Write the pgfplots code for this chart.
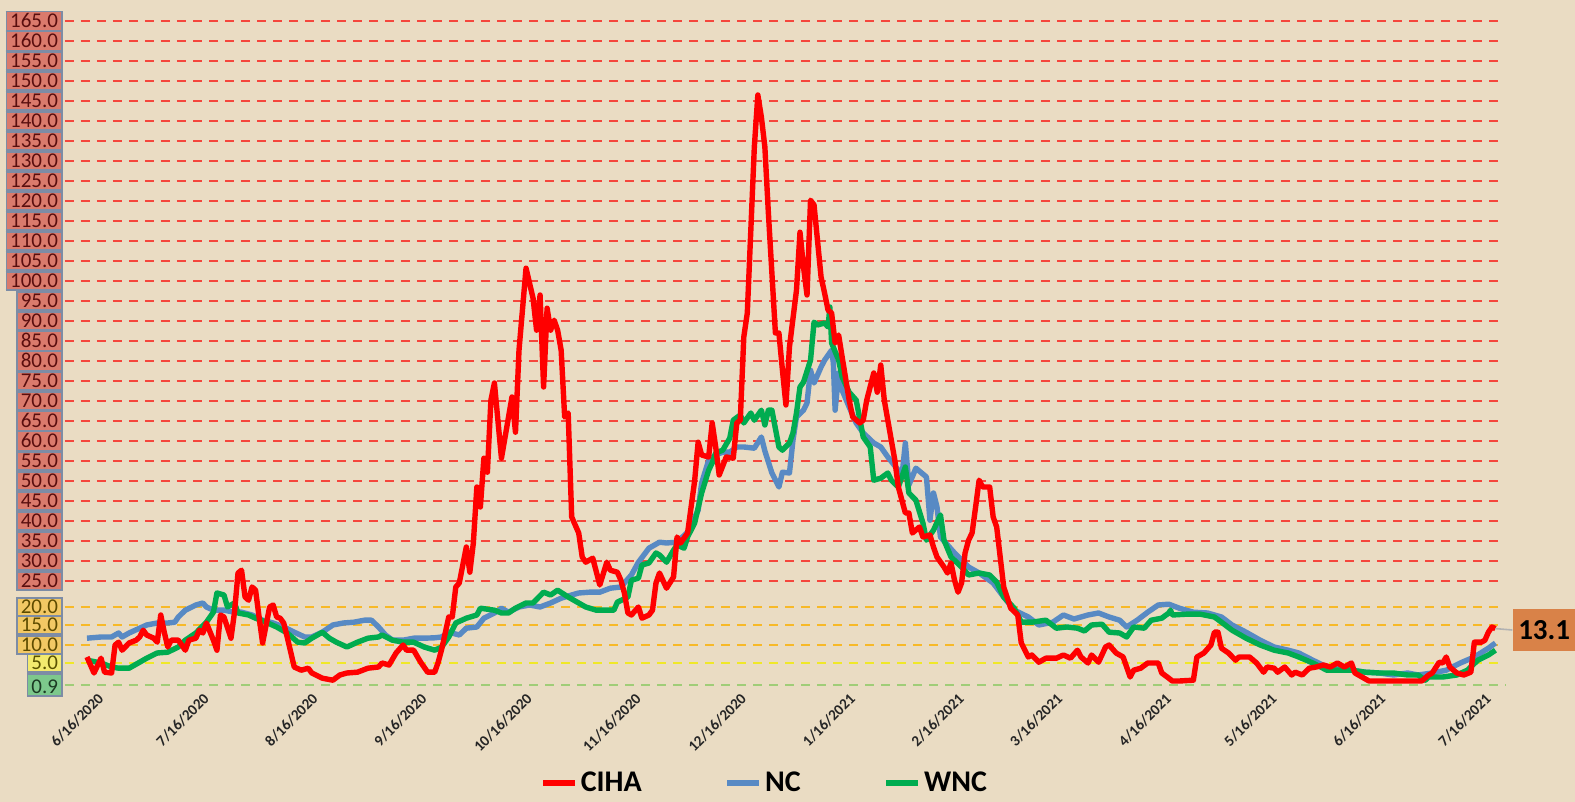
\documentclass[border=0pt]{standalone}
\usepackage{fontspec}
\setmainfont{Carlito}
\usepackage{pgfplots}
\pgfplotsset{compat=1.18}
\definecolor{bg}{RGB}{234,220,195}
\definecolor{cihared}{RGB}{255,0,0}
\definecolor{ncblue}{RGB}{88,138,196}
\definecolor{wncgreen}{RGB}{0,172,80}
\definecolor{gridred}{RGB}{245,70,60}
\definecolor{gridgold}{RGB}{247,185,40}
\definecolor{gridyellow}{RGB}{240,232,40}
\definecolor{gridgreen}{RGB}{160,205,120}
\definecolor{boxframe}{RGB}{125,140,165}
\definecolor{labred}{RGB}{218,122,108}
\definecolor{labredtext}{RGB}{90,14,14}
\definecolor{labgold}{RGB}{242,200,100}
\definecolor{labgoldtext}{RGB}{94,75,0}
\definecolor{labyellow}{RGB}{243,234,110}
\definecolor{labyellowtext}{RGB}{90,82,0}
\definecolor{labgreen}{RGB}{125,200,140}
\definecolor{labgreentext}{RGB}{28,58,36}
\definecolor{boxorange}{RGB}{217,130,72}
\newcommand\lab[5]{{\setlength\fboxsep{0.5pt}\setlength\fboxrule{0.8pt}\fcolorbox{#1}{#2}{\hspace{1pt}\textcolor{#3}{\rule[-0.6pt]{0pt}{#5}#4}\hspace{1pt}}}}
\newcommand\rl[1]{\lab{boxframe}{labred}{labredtext}{#1}{7.4pt}}
\newcommand\ol[1]{\lab{boxframe}{labgold}{labgoldtext}{#1}{7.4pt}}
\newcommand\yl[1]{\lab{boxframe}{labyellow}{labyellowtext}{#1}{7.4pt}}
\newcommand\gl[1]{\lab{boxframe}{labgreen}{labgreentext}{#1}{9.4pt}}
\pgfplotstableread{
day v
-2 6
0 2
2 5.7
3 2.2
5 2
6 9
7 9.7
8 7.7
10 9.5
12 10.2
13 11
14 12.7
15 11.5
17 10.7
18 9.7
19 16.5
20 12.2
21 8.5
22 10.2
24 10.2
26 7.7
27 10.2
29 10.7
30 12.7
31 12
32 14.5
34 10.2
35 7.7
36 16.5
37 16
39 10.7
40 17.2
41 27
42 27.7
43 21
44 20.2
45 23.5
46 22.7
47 16
48 9.5
50 18.5
51 19
52 16
53 15.7
54 14.5
55 11
57 3.5
59 2.7
61 3.2
62 2
65 0.7
68 0.2
70 1.5
72 2
75 2.2
78 3.2
81 3.5
82 4.5
84 4
86 7
88 9
89 7.7
91 7.7
93 4.7
95 2.2
97 2.2
98 4.7
99 8
101 16
102 16
103 23.5
104 24.5
106 33.5
107 27.2
108 34.5
109 48.5
110 43.5
111 55.7
112 52.2
113 70.2
114 74.5
116 55.7
119 71
120 62.2
121 82.7
123 103.2
125 95.7
126 87.7
127 96.5
128 73.5
129 93.2
130 87.7
131 90.2
132 87.7
133 82.7
134 66
135 67
136 41
138 37
139 31
140 29.7
142 30.7
144 24
146 29.7
147 27.7
149 27.2
150 25.2
151 22
152 17
153 16.5
155 18.5
156 15.7
158 16.5
159 17.7
160 24.5
161 27
163 23.2
165 26
166 36
167 34.5
169 37
171 50
172 59.7
173 56.5
175 56
176 64.5
177 58.5
178 51.5
180 56
182 55.7
183 64.5
184 65.2
185 86
186 92
187 112.7
188 133.5
189 146.5
190 141
191 133.5
192 117
193 102
194 87
195 87
196 77.7
197 69
198 83.5
200 97.7
201 112.2
202 103.5
203 96.5
204 120.2
205 119
207 101
208 97
209 92.7
210 92
211 84.5
212 86.5
213 81
215 70.2
216 66
218 64.5
219 65.2
220 70.2
222 77
223 72.2
224 79
225 70.2
227 60.2
228 55.2
229 48.5
231 42
232 42
233 37
235 38.5
236 36
238 36.5
239 33.5
240 31
242 28.5
243 27
244 29.5
245 25.2
246 22.2
247 24.5
248 32
249 35.2
250 37
251 43.5
252 50.2
253 48.5
255 48.5
256 41
257 38.5
258 31
259 23.5
261 18.2
263 16.5
264 9.5
266 6
267 6.5
269 4.7
271 5.7
274 5.7
276 6.5
278 5.7
280 7.7
281 6
283 4.5
284 6.5
286 4.7
288 8.5
289 9
291 7
293 6
294 3.5
295 1
296 2.7
298 3.2
300 4.5
303 4.5
304 2
306 0.7
307 0
309 0
313 0.2
314 6
316 7
318 9
319 12.2
320 12.2
321 8.2
323 7
325 5.2
326 6
329 6
331 4.5
333 2.2
334 3.5
336 3.2
337 2.2
339 3.5
341 1.5
342 2.2
344 1.5
346 3.2
348 3.5
350 4
352 3.5
354 4.5
356 3.5
358 4.5
359 2
361 1
363 0
378 0
380 1.5
381 2
383 4.7
384 4.5
385 6
386 3.5
388 2
390 1.5
392 2.2
393 9.7
395 9.7
396 10.2
397 12.2
398 13.5
399 13.1
}\ciha
\pgfplotstableread{
day v
-2 10.7
2 11
5 11
7 12
8 11
10 12
13 13.2
15 14
18 14.5
21 14.5
23 14.7
24 16
26 17.7
29 19
31 19.5
32 18.5
34 17.7
37 17.7
40 17.2
42 17.2
45 16.5
48 15.2
51 14.5
54 13.5
57 12.2
60 11
62 11
65 12.2
68 14
71 14.5
74 14.7
77 15.2
79 15.2
81 13.5
83 11.5
85 10.2
88 10.2
91 10.7
94 10.7
97 10.8
99 11
101 12.2
104 11.5
106 13.2
109 13.5
111 15.7
114 17
116 18.2
118 17.2
121 18.5
124 19
127 18.5
130 19.5
133 20.7
136 21.5
138 22
141 22.2
144 22.2
147 23.2
150 23.5
153 26.5
155 29.7
158 33.2
161 34.7
163 34.5
166 34.7
169 37.2
172 42.7
173 49.5
175 55.2
177 56.5
179 57.2
181 57.2
183 58.5
185 58.5
188 58.2
190 61
191 57.5
193 52
195 48.5
196 52.2
198 52
199 60.2
200 66
202 67.7
203 69.5
204 77.7
205 74.5
207 78.5
208 80.2
210 82.7
210.5 79.5
211 67.7
212 77
213 72.7
215 68.5
217 64.5
219 62
222 59.5
224 58.5
226 56
229 52.7
230 51
231 59.5
232 49
234 53.2
237 51
238 40.2
239 47
240 43.5
241 36
245 32
249 28.5
252 27
256 24.5
259 21
262 17.7
266 16
269 14
273 14.7
276 16.5
279 15.5
283 16.5
286 17
289 16
292 15.2
294 13.5
297 15.2
300 17.2
303 19
306 19.2
309 18.2
313 17.2
317 17
321 16
324 14
328 12.2
332 10.2
336 8.5
340 7.7
343 7
347 5.2
351 3.5
355 3.2
358 2.7
362 2.2
366 2
370 1.5
374 2
377 1.5
381 2
385 2.7
389 4.5
393 6
397 8.2
399 9.5
}\nc
\pgfplotstableread{
day v
-2 5.2
2 4.5
5 3.5
7 3.2
10 3.2
13 4.7
15 5.7
18 7
21 7.2
24 8.5
26 10.2
29 12
32 14.7
34 17.2
35 22
37 21.5
38 18.5
40 19.5
41 17
44 16.5
46 15.7
49 14.7
52 13.5
55 12
58 9.7
60 9.5
62 10.7
65 12.2
67 10.7
69 9.7
72 8.5
75 9.7
78 10.7
81 11
82 11.5
85 10.2
88 9.7
91 9.7
94 8.5
97 7.7
99 8.5
101 11
103 14.5
106 15.7
109 16.5
110 18.2
114 17.7
116 17
118 17
120 18.2
123 19.5
125 19.5
128 22.2
130 21.5
132 22.7
135 21
138 19.5
140 18.5
143 17.7
146 17.7
148 17.7
149 19.7
152 21
153 25.2
155 25.7
156 29
158 29.5
160 32
161 31.5
163 29.7
165 32.7
166 34
168 33.2
169 36
171 39.5
173 47
175 52.7
176 54.5
177 57
179 57.7
181 60.7
182 65.2
184 66.5
185 64.5
187 67
188 65.2
190 67.7
191 64
192 67.7
193 67.7
195 58.5
196 57.7
198 59.5
199 62
200 67
201 73.5
202 74.7
204 80.2
205 89.7
206 89
208 89.5
209 88.5
209.5 93.5
210 84.5
212 80.2
213 76
215 72.2
217 70.2
219 61
221 58.5
222 50.2
224 50.7
226 52
227 50.2
229 48.5
231 53.5
232 47
234 45.2
236 39.5
237 35.2
239 37.7
241 41.5
242 35.2
244 31
247 28.5
249 26.5
252 27
255 26.5
257 24.7
259 21
262 18.2
264 14.7
267 14.7
271 15.2
274 13.2
277 13.5
280 13.2
282 12.5
284 14
287 14.2
289 12.2
292 12
294 11
296 13.5
299 13.2
301 15.2
304 15.7
306 17
306.5 17.7
307 16.5
311 16.7
315 16.7
319 16
321 14.7
324 12.7
328 10.7
332 9
336 7.7
340 7
343 6
347 4.5
351 2.7
355 2.7
358 2.7
362 2.2
366 2
370 2
374 1.5
377 1.5
379 0.2
380 1
384 1
388 1.5
391 2.7
394 5.2
397 6.5
399 7.7
}\wnc
\begin{document}
\begin{tikzpicture}
\fill[bg] (-32.5pt,-56.5pt) rectangle (755pt,344.5pt);
\begin{axis}[
  at={(0pt,0pt)}, anchor=south west,
  width=717.5pt, height=336pt, scale only axis,
  xmin=-8.26, xmax=400.3, ymin=-2, ymax=166,
  clip=false,
  axis line style={draw=none},
  major tick length=0pt,
  xtick={0,30,61,92,122,153,183,214,245,273,304,334,365,395},
  xticklabels={6/16/2020,7/16/2020,8/16/2020,9/16/2020,10/16/2020,11/16/2020,12/16/2020,1/16/2021,2/16/2021,3/16/2021,4/16/2021,5/16/2021,6/16/2021,7/16/2021},
  xticklabel style={rotate=45, anchor=east, inner sep=0pt, yshift=-5pt, text=black!85, font=\fontsize{7.6}{7.6}\selectfont\bfseries},
  ytick={-1,4.5,9,14,18.5,25,30,35,40,45,50,55,60,65,70,75,80,85,90,95,100,105,110,115,120,125,130,135,140,145,150,155,160,165},
  yticklabels={\gl{0.9},\yl{5.0},\ol{10.0},\ol{15.0},\ol{20.0},\rl{25.0},\rl{30.0},\rl{35.0},\rl{40.0},\rl{45.0},\rl{50.0},\rl{55.0},\rl{60.0},\rl{65.0},\rl{70.0},\rl{75.0},\rl{80.0},\rl{85.0},\rl{90.0},\rl{95.0},\rl{100.0},\rl{105.0},\rl{110.0},\rl{115.0},\rl{120.0},\rl{125.0},\rl{130.0},\rl{135.0},\rl{140.0},\rl{145.0},\rl{150.0},\rl{155.0},\rl{160.0},\rl{165.0}},
  yticklabel style={anchor=east, inner sep=0pt, xshift=-1pt, font=\fontsize{10.5}{10.5}\selectfont},
  legend image code/.code={\draw[#1] (0pt,0pt) -- (16pt,0pt);},
  legend style={at={(axis description cs:0.331,-0.14)}, anchor=west, draw=none, fill=none, inner sep=0pt,
    font=\fontsize{15}{15}\selectfont\bfseries, nodes={inner xsep=1.5pt, inner ysep=0pt},
    /tikz/every even column/.append style={column sep=40pt}},
  legend columns=3,
]
\pgfplotsinvokeforeach{25,30,35,40,45,50,55,60,65,70,75,80,85,90,95,100,105,110,115,120,125,130,135,140,145,150,155,160,165}{
  \draw[gridred, line width=1pt, dash pattern=on 4.5pt off 3.5pt] (axis cs:-8.26,#1) -- (axis cs:400,#1);
}
\pgfplotsinvokeforeach{9,14,18.5}{
  \draw[gridgold, line width=1pt, dash pattern=on 4.5pt off 3.5pt] (axis cs:-8.26,#1) -- (axis cs:400,#1);
}
\draw[gridyellow, line width=1pt, dash pattern=on 4.5pt off 3.5pt] (axis cs:-8.26,4.5) -- (axis cs:400,4.5);
\draw[gridgreen, line width=1pt, dash pattern=on 4.5pt off 3.5pt] (axis cs:-8.26,-1) -- (axis cs:402,-1);
\addplot[ncblue, line width=2.7pt, line join=round, no markers, forget plot] table[x=day,y=v] {\nc};
\addplot[wncgreen, line width=2.7pt, line join=round, no markers, forget plot] table[x=day,y=v] {\wnc};
\addplot[cihared, line width=2.7pt, line join=round, no markers, forget plot] table[x=day,y=v] {\ciha};
\addlegendimage{cihared, line width=2.7pt}
\addlegendentry{CIHA}
\addlegendimage{ncblue, line width=2.7pt}
\addlegendentry{NC}
\addlegendimage{wncgreen, line width=2.7pt}
\addlegendentry{WNC}
\draw[black!30, line width=0.8pt] (axis cs:399,13.1) -- (axis cs:403.8,12.75);
\node[fill=boxorange, anchor=west, minimum width=31.5pt, minimum height=21pt, inner sep=0pt, font=\fontsize{14.5}{14.5}\selectfont\bfseries] at (axis cs:403.8,12.75) {13.1};
\end{axis}
\pgfresetboundingbox
\useasboundingbox (-32.5pt,-56.5pt) rectangle (755pt,344.5pt);
\end{tikzpicture}
\end{document}
